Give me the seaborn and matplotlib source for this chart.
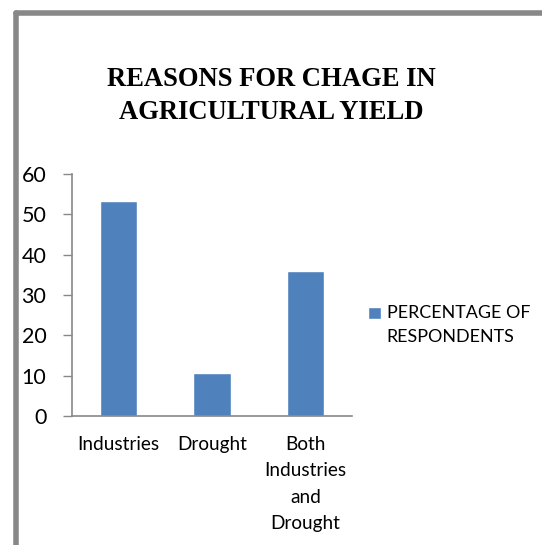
import matplotlib
matplotlib.use("Agg")
import matplotlib.pyplot as plt
import seaborn as sns
import pandas as pd
from matplotlib.lines import Line2D

# Data
categories = ["Industries", "Drought", "Both\nIndustries\nand\nDrought"]
percentages = [53.3, 10.7, 36.0]
series_label = "PERCENTAGE OF\nRESPONDENTS"
title_text = "REASONS FOR CHAGE IN\nAGRICULTURAL YIELD"
y_ticks = [0, 10, 20, 30, 40, 50, 60]

df = pd.DataFrame({"reason": categories, "pct": percentages})

sns.set_theme(style="white")
plt.rcParams["font.family"] = ["Lato", "DejaVu Sans"]

W, H = 542, 545
fig = plt.figure(figsize=(W / 100, H / 100), dpi=100)
fig.patch.set_facecolor("white")

ax = fig.add_axes([72 / W, 1 - 416 / H, (352 - 72) / W, (416 - 174) / H])
sns.barplot(data=df, x="reason", y="pct", color="#4F81BD", saturation=1,
            width=0.4, label=series_label, ax=ax)

ax.set_xlim(-0.5, 2.5)
ax.set_ylim(0, 60)
ax.set_yticks(y_ticks)
ax.set_xlabel("")
ax.set_ylabel("")

axis_col = "#888888"
for side in ["top", "right"]:
    ax.spines[side].set_visible(False)
for side in ["left", "bottom"]:
    ax.spines[side].set_color(axis_col)
    ax.spines[side].set_linewidth(1.2)

ax.tick_params(axis="y", which="major", direction="out", length=6.5, width=1.0,
               color=axis_col, labelsize=15.5, pad=12, left=True, labelcolor="black")
ax.tick_params(axis="x", length=0, labelsize=13.7, pad=14.5, labelcolor="black")
for lbl in ax.get_xticklabels():
    lbl.set_linespacing(1.66)
    lbl.set_ha("center")

leg = ax.legend(loc="center left", bbox_to_anchor=(368 / W, 1 - 325 / H),
                bbox_transform=fig.transFigure, frameon=False, fontsize=12.9,
                handlelength=0.75, handleheight=0.65, handletextpad=0.3,
                borderpad=0, borderaxespad=0)
for t in leg.get_texts():
    t.set_color("black")
    t.set_linespacing(1.6)
for h in leg.legend_handles:
    h.set_y(h.get_y() + 8.8)

fig.text(0.5, 1 - 96 / H, title_text, ha="center", va="center",
         fontfamily="Liberation Serif", fontweight="bold", fontsize=19.2,
         linespacing=1.42, color="black")

# outer frame (left and top gray border)
fcol = "#888888"
fig.add_artist(Line2D([15.5 / W, 15.5 / W], [-0.05, 1 - 12.5 / H], color=fcol,
                      lw=4, solid_capstyle="round", transform=fig.transFigure))
fig.add_artist(Line2D([15.5 / W, 1.05], [1 - 12.5 / H, 1 - 12.5 / H], color=fcol,
                      lw=4, solid_capstyle="round", transform=fig.transFigure))

fig.savefig("out.png", dpi=100, facecolor="white")
